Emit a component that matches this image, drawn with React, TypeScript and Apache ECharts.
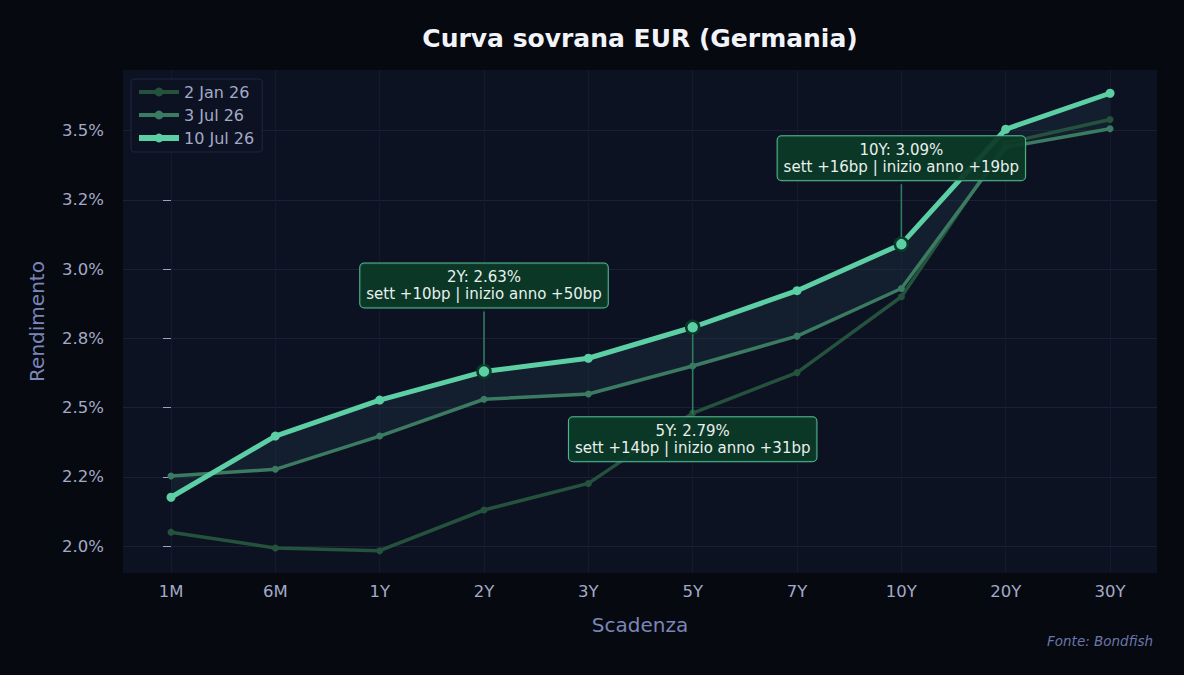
import React, { useEffect, useRef } from "react";
import * as echarts from "echarts";

// Maturities along the curve
const tenors = ["1M", "6M", "1Y", "2Y", "3Y", "5Y", "7Y", "10Y", "20Y", "30Y"];

// Yields (%) for each curve date
const yieldsJan2 = [2.05, 1.993, 1.983, 2.13, 2.226, 2.48, 2.626, 2.9, 3.455, 3.54];
const yieldsJul3 = [2.253, 2.277, 2.397, 2.53, 2.549, 2.65, 2.758, 2.93, 3.44, 3.507];
const yieldsJul10 = [2.176, 2.397, 2.527, 2.63, 2.678, 2.79, 2.922, 3.09, 3.505, 3.635];

const seriesNames = ["2 Jan 26", "3 Jul 26", "10 Jul 26"];

// Y ticks and their printed labels
const yTicks = [2.0, 2.25, 2.5, 2.75, 3.0, 3.25, 3.5];
const yTickLabels = ["2.0%", "2.2%", "2.5%", "2.8%", "3.0%", "3.2%", "3.5%"];

// Tenors that get a callout on the latest curve
const calloutTenors = ["2Y", "5Y", "10Y"];

const FONT = "DejaVu Sans";

export default function App() {
  const ref = useRef<HTMLDivElement>(null);

  useEffect(() => {
    document.body.style.margin = "0";
    if (!ref.current) return;
    const chart = echarts.init(ref.current, null, { renderer: "svg" });

    const tickIdx = tenors.map((_, i) => i);
    const pairs = (arr: number[]) => arr.map((v, i) => [i, v]);

    const colors = ["#25523d", "#3a7b61", "#5dcfa5"];
    const widths = [3.5, 3.5, 5];

    const latestData = yieldsJul10.map((v, i) => {
      const hl = calloutTenors.includes(tenors[i]);
      return hl
        ? {
            value: [i, v],
            symbolSize: 13,
            itemStyle: { color: colors[2], borderColor: "#0a3a27", borderWidth: 2.5 },
          }
        : { value: [i, v] };
    });

    chart.setOption({
      animation: false,
      backgroundColor: "#060910",
      textStyle: { fontFamily: FONT },
      grid: {
        left: 123,
        top: 70,
        width: 1034,
        height: 503,
        show: true,
        backgroundColor: "#0d1222",
        borderWidth: 0,
        containLabel: false,
      },
      legend: {
        data: seriesNames.map((n, k) => ({
          name: n,
          lineStyle: { width: k === 2 ? 6 : 4, color: colors[k] },
        })),
        left: 131,
        top: 79,
        orient: "vertical",
        itemWidth: 40,
        itemHeight: 11,
        itemGap: 7,
        padding: [5, 8, 6, 5],
        backgroundColor: "#0d1222",
        borderColor: "#1f2740",
        borderWidth: 1,
        borderRadius: 3,
        textStyle: { color: "#a3aac8", fontSize: 16, lineHeight: 16, fontFamily: FONT },
      },
      xAxis: {
        type: "value",
        min: -0.46,
        max: 9.45,
        name: "Scadenza",
        nameLocation: "middle",
        nameGap: 42,
        nameTextStyle: { color: "#7a86b8", fontSize: 20, fontFamily: FONT },
        axisLine: { show: false },
        axisTick: { show: false, customValues: tickIdx },
        axisLabel: {
          customValues: tickIdx,
          formatter: (v: number) => tenors[Math.round(v)] ?? "",
          color: "#a3aac8",
          fontSize: 16.5,
          margin: 10,
          fontFamily: FONT,
        },
        splitLine: { show: true, lineStyle: { color: "#131a2b", width: 1 } },
      },
      yAxis: {
        type: "value",
        min: 1.9025,
        max: 3.719,
        name: "Rendimento",
        nameLocation: "middle",
        nameGap: 76,
        nameTextStyle: { color: "#7a86b8", fontSize: 20, fontFamily: FONT },
        axisLine: { show: false },
        axisTick: {
          show: true,
          customValues: yTicks,
          length: 8,
          lineStyle: { color: "#9aa2c4", width: 1 },
        },
        axisLabel: {
          customValues: yTicks,
          formatter: (v: number) => {
            const k = yTicks.findIndex((t) => Math.abs(t - v) < 1e-6);
            return k >= 0 ? yTickLabels[k] : "";
          },
          color: "#a3aac8",
          fontSize: 16.5,
          margin: 19,
          fontFamily: FONT,
        },
        splitLine: { show: true, lineStyle: { color: "#1a2135", width: 1 } },
      },
      series: [
        {
          // shaded band between the last two curves
          type: "custom",
          name: "band",
          silent: true,
          z: 1,
          data: [[0]],
          renderItem: (_p: any, api: any) => {
            const pts: number[][] = [];
            yieldsJul10.forEach((v, i) => pts.push(api.coord([i, v])));
            for (let i = yieldsJul3.length - 1; i >= 0; i--) pts.push(api.coord([i, yieldsJul3[i]]));
            return {
              type: "polygon",
              shape: { points: pts },
              style: { fill: "rgba(30,55,72,0.36)", stroke: "none" },
            };
          },
        },
        {
          type: "line",
          name: seriesNames[0],
          data: pairs(yieldsJan2),
          z: 2,
          symbol: "circle",
          symbolSize: 7,
          lineStyle: { color: colors[0], width: widths[0] },
          itemStyle: { color: colors[0] },
        },
        {
          type: "line",
          name: seriesNames[1],
          data: pairs(yieldsJul3),
          z: 3,
          symbol: "circle",
          symbolSize: 7,
          lineStyle: { color: colors[1], width: widths[1] },
          itemStyle: { color: colors[1] },
        },
        {
          type: "line",
          name: seriesNames[2],
          data: latestData,
          z: 4,
          symbol: "circle",
          symbolSize: 9,
          lineStyle: { color: colors[2], width: widths[2] },
          itemStyle: { color: colors[2] },
        },
      ],
    });

    // Callouts on the latest curve, placed from the chart's own coordinates
    const boxOffsets: Record<string, number> = { "2Y": -86, "5Y": 112, "10Y": -86 };
    const graphics: any[] = [
      {
        type: "text",
        x: 640,
        y: 38,
        style: {
          text: "Curva sovrana EUR (Germania)",
          fontFamily: FONT,
          fontSize: 25,
          fontWeight: "bold",
          fill: "#f2f4fa",
          align: "center",
          verticalAlign: "middle",
        },
      },
      {
        type: "text",
        x: 1153,
        y: 641,
        style: {
          text: "Fonte: Bondfish",
          fontFamily: FONT,
          fontSize: 13.5,
          fontStyle: "italic",
          fill: "#6b77a8",
          align: "right",
          verticalAlign: "middle",
        },
      },
    ];
    calloutTenors.forEach((t) => {
      const i = tenors.indexOf(t);
      const v = yieldsJul10[i];
      const [px, py] = chart.convertToPixel({ gridIndex: 0 }, [i, v]) as number[];
      const off = boxOffsets[t];
      const cy = py + off;
      const weekBp = Math.round((v - yieldsJul3[i]) * 100);
      const ytdBp = Math.round((v - yieldsJan2[i]) * 100);
      const sign = (n: number) => (n >= 0 ? "+" : "") + n;
      const half = 22;
      const lineStart = off < 0 ? cy + half + 4 : cy - half - 3;
      const lineEnd = off < 0 ? py - 7 : py + 7;
      graphics.push({
        type: "line",
        z: 50,
        shape: { x1: px, y1: lineStart, x2: px, y2: lineEnd },
        style: { stroke: "#2f7a60", lineWidth: 1.6 },
      });
      graphics.push({
        type: "text",
        z: 60,
        x: px,
        y: cy,
        style: {
          text: `${t}: ${v.toFixed(2)}%\nsett ${sign(weekBp)}bp | inizio anno ${sign(ytdBp)}bp`,
          fontFamily: FONT,
          fontSize: 15,
          lineHeight: 17,
          fill: "#e8f0ec",
          align: "center",
          verticalAlign: "middle",
          backgroundColor: "rgba(12,58,40,0.93)",
          borderColor: "#56bf95",
          borderWidth: 1,
          borderRadius: 4,
          padding: [5, 6, 5, 6],
        },
      });
    });
    chart.setOption({ graphic: graphics });

    return () => chart.dispose();
  }, []);

  return <div ref={ref} style={{ width: 1184, height: 675 }} />;
}
